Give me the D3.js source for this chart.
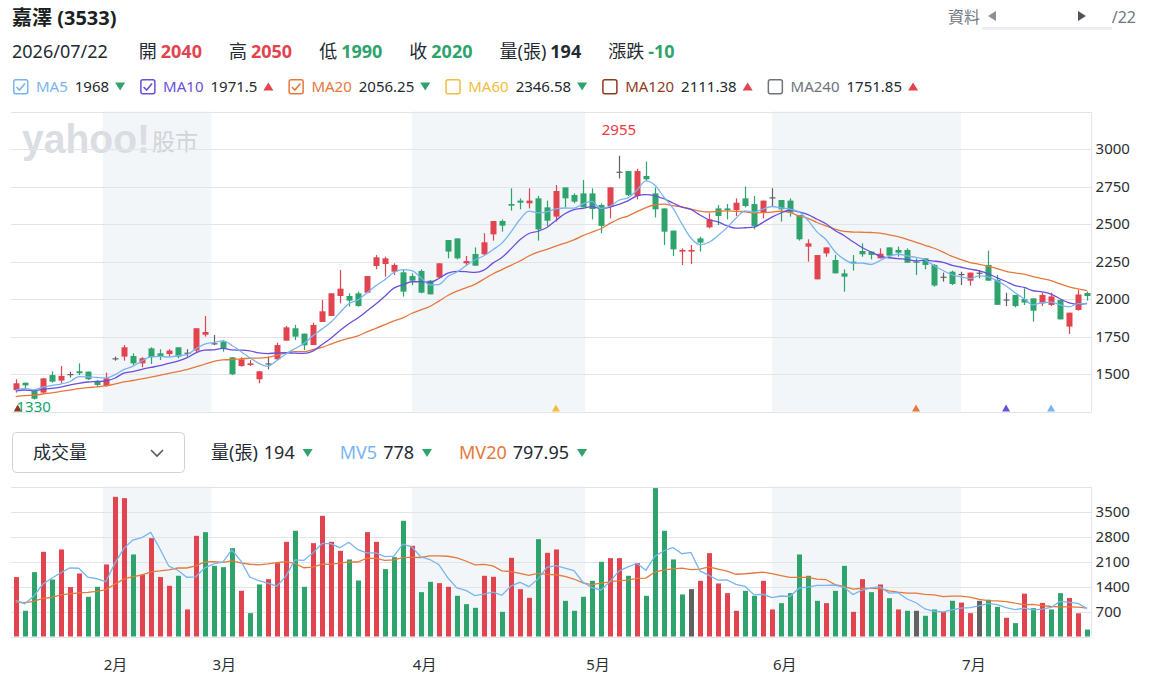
<!DOCTYPE html>
<html>
<head>
<meta charset="utf-8">
<script src="https://cdn.jsdelivr.net/npm/d3@7"></script>
<style>
    body { margin: 0; background: #fff; }
    text { font-family: "Noto Sans", "Noto Sans CJK TC", sans-serif; }
</style>
</head>
<body>
<script>
// trading days shown (2026)
const dates = [
    "01-19","01-20","01-21","01-22","01-23","01-26","01-27","01-28","01-29","01-30",
    "02-02","02-03","02-04","02-05","02-06","02-09","02-10","02-11","02-23","02-24","02-25","02-26",
    "03-02","03-03","03-04","03-05","03-06","03-09","03-10","03-11","03-12","03-13","03-16","03-17",
    "03-18","03-19","03-20","03-23","03-24","03-25","03-26","03-27","03-30","03-31",
    "04-01","04-02","04-07","04-08","04-09","04-10","04-13","04-14","04-15","04-16","04-17","04-20",
    "04-21","04-22","04-23","04-24","04-27","04-28","04-29","04-30",
    "05-04","05-05","05-06","05-07","05-08","05-11","05-12","05-13","05-14","05-15","05-18","05-19",
    "05-20","05-21","05-22","05-25","05-26","05-27","05-28","05-29",
    "06-01","06-02","06-03","06-04","06-05","06-08","06-09","06-10","06-11","06-12","06-15","06-16",
    "06-17","06-18","06-22","06-23","06-24","06-25","06-26","06-29","06-30",
    "07-01","07-02","07-03","07-06","07-07","07-08","07-09","07-13","07-14","07-15","07-16","07-17",
    "07-20","07-21","07-22"
]

const opens = [
    1393,1442,1387,1376,1493,1456,1500,1518,1516,1449,1420,1605,1616,1620,1571,1671,1638,1633,1678,1642,
    1656,1762,1705,1716,1611,1553,1560,1465,1571,1598,1722,1805,1769,1693,1847,1887,2020,2020,2038,2042,
    2220,2233,2182,2178,2153,2187,2122,2144,2393,2404,2238,2300,2298,2431,2520,2633,2656,2638,2671,2611,
    2549,2744,2693,2704,2704,2627,2616,2849,2853,2687,2820,2704,2604,2456,2316,2316,2404,2478,2604,2604,
    2593,2671,2633,2576,2678,2660,2656,2560,2349,2131,2304,2260,2171,2249,2320,2316,2271,2344,2327,2327,
    2249,2271,2227,2149,2182,2167,2122,2176,2227,2127,1997,2027,2000,2004,1971,1960,1993,1816,1927,2040
]
const highs = [
    1465,1442,1392,1471,1518,1553,1516,1571,1516,1460,1509,1616,1693,1638,1612,1678,1665,1665,1678,1665,
    1805,1887,1760,1727,1611,1611,1593,1518,1616,1709,1820,1827,1769,1842,1993,2038,2193,2038,2049,2153,
    2293,2282,2238,2198,2171,2198,2127,2238,2393,2404,2287,2344,2438,2520,2531,2738,2671,2738,2687,2656,
    2760,2744,2704,2793,2738,2638,2744,2955,2853,2869,2916,2744,2604,2456,2338,2360,2416,2571,2627,2633,
    2671,2749,2687,2656,2738,2660,2671,2560,2398,2293,2344,2293,2198,2293,2371,2316,2338,2344,2349,2338,
    2271,2271,2233,2176,2189,2182,2176,2193,2322,2160,2042,2027,2071,2004,2042,2042,1993,1909,2060,2050
]
const lows = [
    1376,1405,1330,1371,1442,1438,1476,1493,1460,1416,1416,1589,1589,1560,1545,1567,1593,1616,1605,1616,
    1642,1749,1693,1649,1493,1549,1553,1438,1531,1593,1722,1727,1660,1693,1847,1887,1971,1949,1949,2042,
    2198,2149,2160,2016,2093,2038,2031,2138,2271,2264,2220,2222,2293,2389,2449,2589,2598,2604,2389,2487,
    2516,2611,2638,2611,2531,2438,2538,2804,2687,2664,2789,2544,2360,2287,2227,2233,2316,2471,2493,2531,
    2553,2611,2464,2538,2616,2516,2549,2389,2249,2131,2282,2171,2049,2189,2282,2264,2271,2282,2282,2242,
    2160,2198,2082,2116,2093,2093,2089,2138,2122,1961,1953,1944,1960,1849,1953,1953,1864,1767,1922,1990
]
const closes = [
    1438,1424,1335,1471,1449,1487,1500,1505,1465,1427,1471,1605,1678,1571,1605,1612,1620,1656,1616,1642,
    1805,1780,1705,1671,1498,1598,1571,1518,1571,1693,1811,1749,1691,1827,1918,2038,2069,1989,1953,2153,
    2278,2271,2227,2049,2122,2042,2031,2238,2316,2271,2253,2222,2378,2520,2489,2622,2642,2656,2464,2522,
    2720,2671,2649,2611,2600,2487,2744,2849,2693,2853,2798,2598,2449,2331,2327,2327,2376,2531,2553,2593,
    2642,2620,2487,2656,2678,2598,2576,2398,2371,2293,2344,2171,2149,2238,2298,2294,2302,2289,2309,2242,
    2242,2227,2090,2149,2100,2167,2176,2176,2122,1961,1997,1953,1976,1922,2027,2017,1864,1909,2030,2020
]
const volumes = [
    1663,720,1803,2372,1597,2437,1383,1765,1111,1391,2017,3912,3874,2297,1737,2754,1663,1419,1700,757,
    2819,2922,1979,1941,2474,1279,654,1457,1606,2054,2651,2960,1391,2614,3379,2651,2399,2157,1569,2922,
    2651,1887,2222,3240,2540,1242,1531,1494,1391,1140,906,803,1700,1671,691,2203,1326,1083,2726,2343,
    2437,999,720,1111,1559,2092,2194,2194,1700,2054,1140,4155,2960,2157,1177,1326,1559,2334,1485,1214,
    720,1279,1140,1559,757,934,1214,2297,1700,999,934,1279,1979,691,1606,1242,1457,1074,757,720,
    720,580,757,683,1000,950,654,999,1030,832,524,375,1200,794,940,757,1214,1080,650,194
]
// the 19 sessions before the window, only needed to start the moving averages
const priorCloses = [1280,1295,1300,1290,1310,1320,1315,1325,1330,1345,1360,1375,1390,1385,1395,1370,1385,1380,1392]
const priorVolumes = [900,1100,800,950,1000,850,1200,900,780,1050,900,1000,880,960,850,1200,750,700,750]

const priceTicks = [1500, 1750, 2000, 2250, 2500, 2750, 3000]
const volumeTicks = [700, 1400, 2100, 2800, 3500]
const monthStarts = ["02-01", "03-01", "04-01", "05-01", "06-01", "07-01"]
const monthLabels = ["2月", "3月", "4月", "5月", "6月", "7月"]

const maNames = ["MA5", "MA10", "MA20", "MA60", "MA120", "MA240"]
const maValues = ["1968", "1971.5", "2056.25", "2346.58", "2111.38", "1751.85"]
const maRising = [false, true, false, false, true, true]
const maShown = [true, true, true, false, false, false]
const signalDays = [0, 60, 100, 110, 115]
const signalLines = ["MA120", "MA60", "MA20", "MA10", "MA5"]

const WIDTH = 1155
const HEIGHT = 680
const RED = "#e2444f"
const GREEN = "#2ea46c"
const GRAY = "#616161"
const TEXT = "#232a31"
const GRID = "#e1e4e8"
const BAND = "#f3f6f9"
const LINE_COLORS = {
    MA5: "#78b5f0", MA10: "#6b4edb", MA20: "#e5783b",
    MA60: "#f1bd3c", MA120: "#8c3b1c", MA240: "#6e7379"
}

const PLOT = { left: 11.2, right: 1091.6 }
const PRICE = { top: 111.5, bottom: 411.5 }
const VOL = { top: 486.5, bottom: 636.5 }

const svg = d3.select("body")
    .append("svg")
    .attr("width", WIDTH)
    .attr("height", HEIGHT)

const x = d3.scaleBand()
    .domain(d3.range(dates.length))
    .range([PLOT.left, PLOT.right])
    .padding(0)
const xc = i => x(i) + x.bandwidth() / 2

const yPrice = d3.scaleLinear().domain([1250, 3250]).range([PRICE.bottom, PRICE.top])
const yVol = d3.scaleLinear().domain([0, 4200]).range([VOL.bottom, VOL.top])

const parseDay = d3.timeParse("%Y-%m-%d")
const days = dates.map(d => parseDay("2026-" + d))

// month edge: interpolate the calendar day between the trading days around it
function dayPos(s) {
    const day = parseDay("2026-" + s)
    const b = d3.bisectLeft(days, day)
    const a = b - 1
    const t = (day - days[a]) / (days[b] - days[a])
    return xc(a) + t * (xc(b) - xc(a))
}
const edges = monthStarts.map(dayPos)

function movingAverage(values, prior, n) {
    const all = prior.concat(values)
    return values.map((v, i) => d3.mean(all.slice(prior.length + i - n + 1, prior.length + i + 1)))
}

// ---------- header ----------
svg.append("text")
    .attr("x", 12).attr("y", 25)
    .attr("font-size", 20).attr("font-weight", "bold")
    .attr("fill", "#1b1f24")
    .text("嘉澤 (3533)")

svg.append("text")
    .attr("x", 948).attr("y", 23)
    .attr("font-size", 16).attr("fill", "#6f7780")
    .text("資料")
svg.append("text")
    .attr("x", 1136).attr("y", 23)
    .attr("text-anchor", "end")
    .attr("font-size", 16).attr("fill", "#6f7780")
    .text("/22")
svg.append("rect")
    .attr("x", 982).attr("y", 6).attr("width", 130).attr("height", 24)
    .attr("fill", "#eceef1")
svg.append("rect")
    .attr("x", 982).attr("y", 4).attr("width", 130).attr("height", 23)
    .attr("fill", "#fff")
svg.append("path")
    .attr("d", "M988,16 L996,11 L996,21 Z")
    .attr("fill", "#8a9097")
svg.append("path")
    .attr("d", "M1086,16 L1078,11 L1078,21 Z")
    .attr("fill", "#4d5358")

const last = dates.length - 1
const prevClose = closes[last - 1]
const tone = v => v > prevClose ? RED : v < prevClose ? GREEN : TEXT
const change = closes[last] - prevClose
const quote = [
    ["開", opens[last], tone(opens[last])],
    ["高", highs[last], tone(highs[last])],
    ["低", lows[last], tone(lows[last])],
    ["收", closes[last], tone(closes[last])],
    ["量(張)", volumes[last], TEXT],
    ["漲跌", change, change > 0 ? RED : change < 0 ? GREEN : TEXT]
]

const quoteRow = svg.append("g").attr("font-size", 18)
let cx = 12
const dateText = quoteRow.append("text")
    .attr("x", cx).attr("y", 58).attr("fill", TEXT)
    .text("2026/07/22")
cx += dateText.node().getComputedTextLength() + 31
quote.forEach(q => {
    const lab = quoteRow.append("text").attr("x", cx).attr("y", 58).attr("fill", TEXT).text(q[0])
    cx += lab.node().getComputedTextLength() + 4
    const val = quoteRow.append("text").attr("x", cx).attr("y", 58)
        .attr("fill", q[2]).attr("font-weight", "bold").text(q[1])
    cx += val.node().getComputedTextLength() + 27
})

function triangle(g, x0, yMid, up, color) {
    const d = up
        ? `M${x0},${yMid + 4} L${x0 + 10},${yMid + 4} L${x0 + 5},${yMid - 4} Z`
        : `M${x0},${yMid - 4} L${x0 + 10},${yMid - 4} L${x0 + 5},${yMid + 4} Z`
    g.append("path").attr("d", d).attr("fill", color)
}

// MA legend
const legend = svg.append("g").attr("font-size", 15)
let lx = 13
maNames.forEach((name, i) => {
    const c = LINE_COLORS[name]
    legend.append("rect")
        .attr("x", lx + 0.75).attr("y", 79.75).attr("width", 14).attr("height", 14).attr("rx", 2)
        .attr("fill", "#fff").attr("stroke", c).attr("stroke-width", 1.5)
    if (maShown[i]) {
        legend.append("path")
            .attr("d", `M${lx + 3.5},${87} L${lx + 6.5},${90} L${lx + 12},${83.5}`)
            .attr("fill", "none").attr("stroke", c).attr("stroke-width", 1.6)
    }
    lx += 23
    const lab = legend.append("text").attr("x", lx).attr("y", 92).attr("fill", c).text(name)
    lx += lab.node().getComputedTextLength() + 7
    const val = legend.append("text").attr("x", lx).attr("y", 92).attr("fill", TEXT).text(maValues[i])
    lx += val.node().getComputedTextLength() + 6
    triangle(legend, lx, 86.5, maRising[i], maRising[i] ? RED : GREEN)
    lx += 25
})

// ---------- month bands ----------
const bandG = svg.append("g")
d3.range(0, edges.length - 1, 2).forEach(m => {
    [PRICE, VOL].forEach(p => {
        bandG.append("rect")
            .attr("x", edges[m]).attr("y", p.top)
            .attr("width", edges[m + 1] - edges[m]).attr("height", p.bottom - p.top)
            .attr("fill", BAND)
    })
})

// watermark
svg.append("text")
    .attr("x", 22).attr("y", 153)
    .attr("font-size", 41).attr("font-weight", 900)
    .attr("textLength", 128).attr("lengthAdjust", "spacingAndGlyphs")
    .attr("fill", "#dadde1")
    .style("font-family", "'Liberation Sans', sans-serif")
    .text("yahoo!")
svg.append("text")
    .attr("x", 152).attr("y", 150)
    .attr("font-size", 23)
    .attr("fill", "#d0d3d8")
    .text("股市")

// ---------- grids and axes ----------
function grid(scale, values, p) {
    svg.append("g")
        .selectAll("line")
        .data(values)
        .enter()
        .append("line")
        .attr("x1", PLOT.left).attr("x2", PLOT.right)
        .attr("y1", d => Math.round(scale(d)) + 0.5)
        .attr("y2", d => Math.round(scale(d)) + 0.5)
        .attr("stroke", GRID)
    svg.append("line")
        .attr("x1", PLOT.right).attr("x2", PLOT.right)
        .attr("y1", p.top).attr("y2", p.bottom)
        .attr("stroke", GRID)
}
grid(yPrice, [1250].concat(priceTicks, [3250]), PRICE)
grid(yVol, [0].concat(volumeTicks, [4200]), VOL)

const priceAxis = svg.append("g")
    .attr("transform", "translate(" + PLOT.right + ", 0)")
    .call(d3.axisRight(yPrice).tickValues(priceTicks).tickFormat(d3.format("d")).tickSize(0).tickPadding(4))
const volAxis = svg.append("g")
    .attr("transform", "translate(" + PLOT.right + ", 0)")
    .call(d3.axisRight(yVol).tickValues(volumeTicks).tickFormat(d3.format("d")).tickSize(0).tickPadding(4))
;[priceAxis, volAxis].forEach(a => {
    a.select(".domain").remove()
    a.selectAll("text")
        .attr("font-size", 15)
        .attr("fill", "#2b2f33")
        .style("font-family", "'Noto Sans', sans-serif")
})

svg.append("g")
    .selectAll("text")
    .data(monthLabels)
    .enter()
    .append("text")
    .attr("x", (d, i) => edges[i] + 1)
    .attr("y", 670)
    .attr("font-size", 15)
    .attr("fill", "#2b2f33")
    .text(d => d)

// ---------- candles ----------
const candleColor = i => closes[i] > opens[i] ? RED : closes[i] < opens[i] ? GREEN : GRAY
const idx = d3.range(dates.length)

const candles = svg.append("g")
candles.selectAll("line")
    .data(idx)
    .enter()
    .append("line")
    .attr("x1", i => Math.round(xc(i)) + 0.5)
    .attr("x2", i => Math.round(xc(i)) + 0.5)
    .attr("y1", i => yPrice(highs[i]))
    .attr("y2", i => yPrice(lows[i]))
    .attr("stroke", candleColor)
    .attr("stroke-width", 1.2)
candles.selectAll("rect")
    .data(idx)
    .enter()
    .append("rect")
    .attr("x", i => Math.round(xc(i)) - 2.5)
    .attr("y", i => yPrice(Math.max(opens[i], closes[i])))
    .attr("width", 6)
    .attr("height", i => Math.max(1.2, yPrice(Math.min(opens[i], closes[i])) - yPrice(Math.max(opens[i], closes[i]))))
    .attr("fill", candleColor)

// moving averages
const maLine = scale => d3.line()
    .x((d, i) => xc(i))
    .y(d => scale(d))
    .curve(d3.curveMonotoneX)

;[["MA20", 20], ["MA10", 10], ["MA5", 5]].forEach(([name, n]) => {
    svg.append("path")
        .datum(movingAverage(closes, priorCloses, n))
        .attr("d", maLine(yPrice))
        .attr("fill", "none")
        .attr("stroke", LINE_COLORS[name])
        .attr("stroke-width", 1.3)
})

// signal markers along the bottom
svg.append("g")
    .selectAll("path")
    .data(signalDays)
    .enter()
    .append("path")
    .attr("d", (d, k) => {
        const px = xc(d) + (k === 0 ? 2 : 0)
        return `M${px - 4},${PRICE.bottom} L${px + 4},${PRICE.bottom} L${px},${PRICE.bottom - 7} Z`
    })
    .attr("fill", (d, k) => LINE_COLORS[signalLines[k]])

// extreme labels
const hiIdx = d3.maxIndex(highs)
const loIdx = d3.minIndex(lows)
svg.append("text")
    .attr("x", xc(hiIdx)).attr("y", yPrice(highs[hiIdx]) - 21)
    .attr("text-anchor", "middle")
    .attr("font-size", 15).attr("fill", "#f2353f")
    .text(highs[hiIdx])
svg.append("text")
    .attr("x", xc(loIdx)).attr("y", yPrice(lows[loIdx]) + 12)
    .attr("text-anchor", "middle")
    .attr("font-size", 15).attr("fill", "#10a36a")
    .text(lows[loIdx])

// ---------- volume ----------
const volHead = svg.append("g").attr("font-size", 18)
volHead.append("rect")
    .attr("x", 12.5).attr("y", 432.5).attr("width", 172).attr("height", 40).attr("rx", 4)
    .attr("fill", "#fff").attr("stroke", "#cfd3d8")
volHead.append("text").attr("x", 33).attr("y", 459).attr("fill", TEXT).text("成交量")
volHead.append("path")
    .attr("d", "M151,450 L157,456 L163,450")
    .attr("fill", "none").attr("stroke", "#555b61").attr("stroke-width", 1.6)

const volLegend = [
    ["量(張)", TEXT, String(volumes[last])],
    ["MV5", LINE_COLORS.MA5, "778"],
    ["MV20", LINE_COLORS.MA20, "797.95"]
]
let vx = 211
volLegend.forEach(v => {
    const lab = volHead.append("text").attr("x", vx).attr("y", 459).attr("fill", v[1]).text(v[0])
    vx += lab.node().getComputedTextLength() + 6
    const val = volHead.append("text").attr("x", vx).attr("y", 459).attr("fill", TEXT).text(v[2])
    vx += val.node().getComputedTextLength() + 8
    triangle(volHead, vx, 453, false, GREEN)
    vx += 37
})

const allCloses = priorCloses.concat(closes)
const volColor = i => {
    const prev = allCloses[priorCloses.length + i - 1]
    return closes[i] > prev ? RED : closes[i] < prev ? GREEN : GRAY
}

svg.append("g")
    .selectAll("rect")
    .data(idx)
    .enter()
    .append("rect")
    .attr("x", i => Math.round(xc(i)) - 2)
    .attr("y", i => yVol(volumes[i]))
    .attr("width", 5)
    .attr("height", i => VOL.bottom - yVol(volumes[i]))
    .attr("fill", volColor)

const volLine = d3.line()
    .x((d, i) => xc(i))
    .y(d => yVol(d))

;[["MA20", 20], ["MA5", 5]].forEach(([name, n]) => {
    svg.append("path")
        .datum(movingAverage(volumes, priorVolumes, n))
        .attr("d", volLine)
        .attr("fill", "none")
        .attr("stroke", LINE_COLORS[name])
        .attr("stroke-width", 1.3)
})
</script>
</body>
</html>
